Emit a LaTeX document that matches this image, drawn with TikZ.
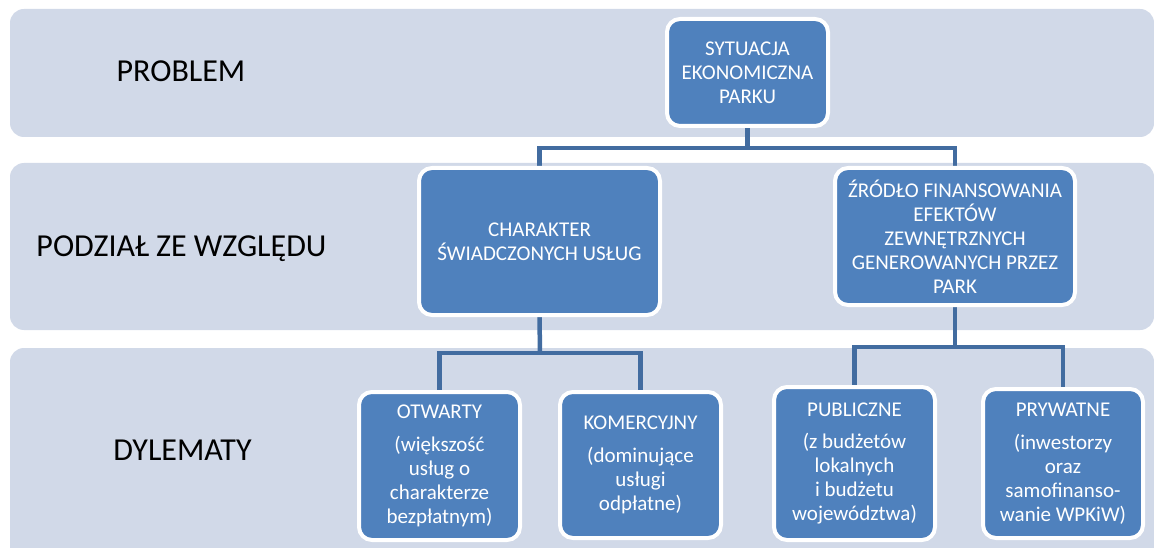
\documentclass[tikz,border=0pt]{standalone}
\usepackage{fontspec}
\setmainfont{Carlito}
\definecolor{bandcol}{RGB}{209,217,232}
\definecolor{boxcol}{RGB}{79,129,189}
\definecolor{conncol}{RGB}{66,108,160}
\pgfdeclarelayer{bandlayer}
\pgfdeclarelayer{connlayer}
\pgfsetlayers{bandlayer,connlayer,main}
\begin{document}
\begin{tikzpicture}[x=1pt,y=-1pt,
  band/.style={fill=bandcol, rounded corners=14pt},
  box/.style={rectangle, rounded corners=13pt, fill=boxcol, draw=white, line width=4pt,
    text=white, align=center, font=\fontsize{21}{24}\selectfont, inner sep=0pt},
  lbl/.style={font=\fontsize{32}{36}\selectfont, anchor=base, inner sep=0pt, text=black},
  conn/.style={draw=conncol, line width=4.5pt}]
\useasboundingbox (0,0) rectangle (1154,548);
\begin{pgfonlayer}{bandlayer}
  \fill[white] (0,0) rectangle (1154,548);
  \path[band] (10,9) rectangle (1154,137);
  \path[band] (10,163) rectangle (1154,330);
  \path[band] (10,348) rectangle (1154,575);
\end{pgfonlayer}
% row labels
\node[lbl] (lp) at (181,82) {PROBLEM};
\node[lbl] (lz) at (181.5,256) {PODZIAŁ ZE WZGLĘDU};
\node[lbl] (ld) at (182.5,460) {DYLEMATY};
% boxes
\node[box, minimum width=161pt, minimum height=107pt] (sit) at (747.5,72.5)
  {SYTUACJA\\EKONOMICZNA\\PARKU};
\node[box, minimum width=241pt, minimum height=147pt] (char) at (539.5,241.5)
  {CHARAKTER\\ŚWIADCZONYCH USŁUG};
\node[box, minimum width=240pt, minimum height=137pt] (src) at (955,236.5)
  {ŹRÓDŁO FINANSOWANIA\\EFEKTÓW\\ZEWNĘTRZNYCH\\GENEROWANYCH PRZEZ\\PARK};
\node[box, minimum width=161pt, minimum height=148pt] (otw) at (439.5,466)
  {OTWARTY\\[9pt](większość\\usług o\\charakterze\\bezpłatnym)};
\node[box, minimum width=161pt, minimum height=146pt] (kom) at (640.5,465)
  {KOMERCYJNY\\[9pt](dominujące\\usługi\\odpłatne)};
\node[box, minimum width=161pt, minimum height=153pt] (pub) at (854.5,463.5)
  {PUBLICZNE\\[8pt](z budżetów\\lokalnych\\i budżetu\\województwa)};
\node[box, minimum width=160pt, minimum height=149pt] (pry) at (1063,463.5)
  {PRYWATNE\\[9pt](inwestorzy\\oraz\\samofinanso-\\wanie WPKiW)};
% connectors
\coordinate (b1) at (747.5,148);
\coordinate (b2) at (540,353);
\coordinate (b3) at (955,347);
\begin{pgfonlayer}{connlayer}
  \draw[conn] (sit.south) -- (b1);
  \draw[conn] (char.north) |- (b1) -| (src.north);
  \draw[conn] (char.south) -- (b2);
  \draw[conn] (otw.north) |- (b2) -| (kom.north);
  \draw[conn] (src.south) -- (b3);
  \draw[conn] (pub.north) |- (b3) -| (pry.north);
\end{pgfonlayer}
\end{tikzpicture}
\end{document}
